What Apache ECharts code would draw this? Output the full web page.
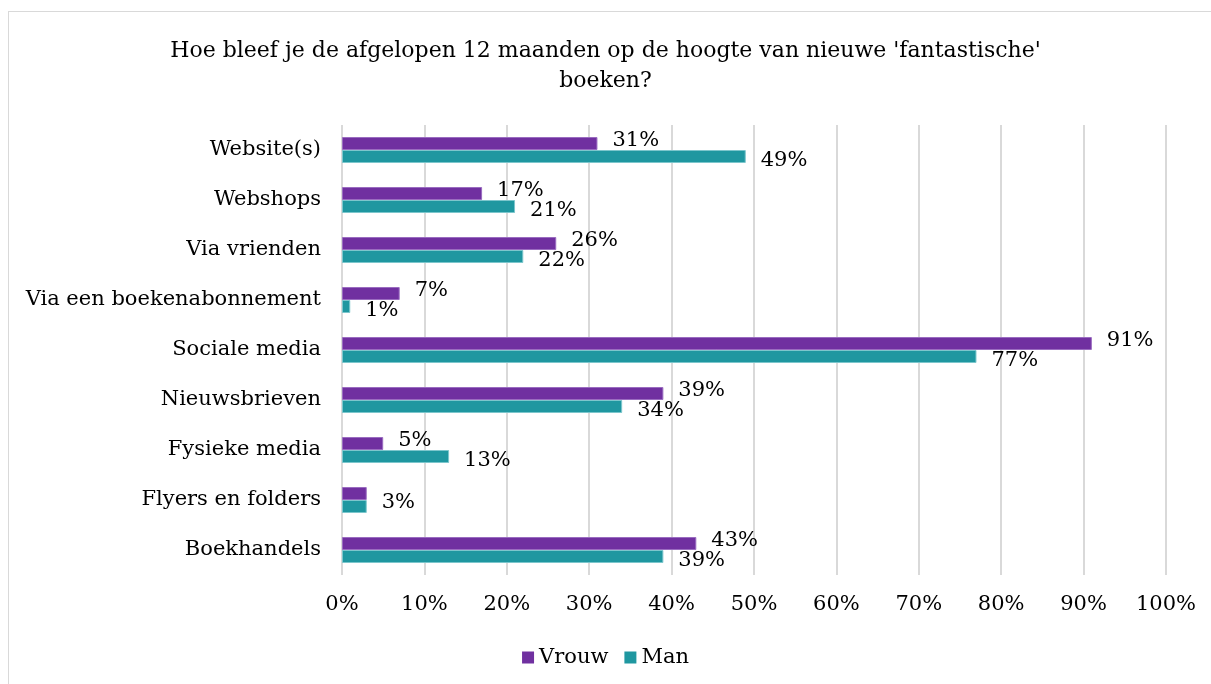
<!DOCTYPE html>
<html>
<head>
<meta charset="utf-8">
<script src="https://cdn.jsdelivr.net/npm/echarts@6/dist/echarts.min.js"></script>
<style>
	html, body { margin: 0; padding: 0; background: #fff; }
	#frame { position: absolute; left: 8px; top: 11px; width: 1220px; height: 700px; border: 1px solid #d9d9d9; }
	#chart { position: absolute; left: 0; top: 0; width: 1211px; height: 684px; }
</style>
</head>
<body>
<div id="frame"></div>
<div id="chart"></div>
<script>
var categories = ['Website(s)', 'Webshops', 'Via vrienden', 'Via een boekenabonnement', 'Sociale media', 'Nieuwsbrieven', 'Fysieke media', 'Flyers en folders', 'Boekhandels'];
var vrouw = [31, 17, 26, 7, 91, 39, 5, 3, 43];
var man = [49, 21, 22, 1, 77, 34, 13, 3, 39];
var ticks = [0, 10, 20, 30, 40, 50, 60, 70, 80, 90, 100];

var serif = 'DejaVu Serif';

// bij gelijke waarden toont Excel maar één label (Flyers en folders)
function buildData(values, other, isMan){
	return values.map(function(v, i){
		if (v === other[i]) {
			return isMan ? { value: v, label: { offset: [0, -4] } } : { value: v, label: { show: false } };
		}
		return v;
	});
}

var myChart = echarts.init(document.getElementById('chart'));
var option = {
	animation: false,
	title: {
		text: "Hoe bleef je de afgelopen 12 maanden op de hoogte van nieuwe 'fantastische'\nboeken?",
		left: 'center',
		top: 31,
		textStyle: {
			fontFamily: serif,
			fontWeight: 'normal',
			fontSize: 22,
			color: '#000',
			lineHeight: 30
		}
	},
	legend: {
		data: ['Vrouw', 'Man'],
		bottom: 11,
		left: 'center',
		icon: 'rect',
		itemWidth: 12,
		itemHeight: 12,
		itemGap: 16,
		itemStyle: { borderWidth: 0 },
		textStyle: { fontFamily: serif, fontSize: 21, color: '#000' }
	},
	grid: {
		left: 342,
		right: 45,
		top: 125,
		bottom: 109,
		containLabel: false
	},
	xAxis: {
		type: 'value',
		min: 0,
		max: 100,
		interval: 10,
		axisLine: { show: false },
		axisTick: { show: false },
		splitLine: { show: true, lineStyle: { color: '#d9d9d9', width: 2 } },
		axisLabel: {
			fontFamily: serif,
			fontSize: 21,
			color: '#000',
			margin: 19,
			formatter: function(v){ return ticks.indexOf(v) >= 0 ? v + '%' : ''; }
		}
	},
	yAxis: {
		type: 'category',
		data: categories,
		inverse: true,
		axisLine: { show: false },
		axisTick: { show: false },
		axisLabel: {
			fontFamily: serif,
			fontSize: 21,
			color: '#000',
			margin: 21
		}
	},
	series: [
		{
			name: 'Vrouw',
			type: 'bar',
			data: buildData(vrouw, man, false),
			barWidth: 13,
			barGap: '0%',
			itemStyle: { color: '#7030a0', borderColor: '#9a6cc0', borderWidth: 1 },
			label: {
				show: true,
				position: 'right',
				distance: 15,
				offset: [0, -3],
				formatter: '{c}%',
				fontFamily: serif,
				fontSize: 21,
				color: '#000'
			}
		},
		{
			name: 'Man',
			type: 'bar',
			data: buildData(man, vrouw, true),
			barWidth: 13,
			barGap: '0%',
			itemStyle: { color: '#1f97a0', borderColor: '#7cc6cc', borderWidth: 1 },
			label: {
				show: true,
				position: 'right',
				distance: 15,
				offset: [0, 4],
				formatter: '{c}%',
				fontFamily: serif,
				fontSize: 21,
				color: '#000'
			}
		}
	]
};
myChart.setOption(option);
</script>
</body>
</html>
